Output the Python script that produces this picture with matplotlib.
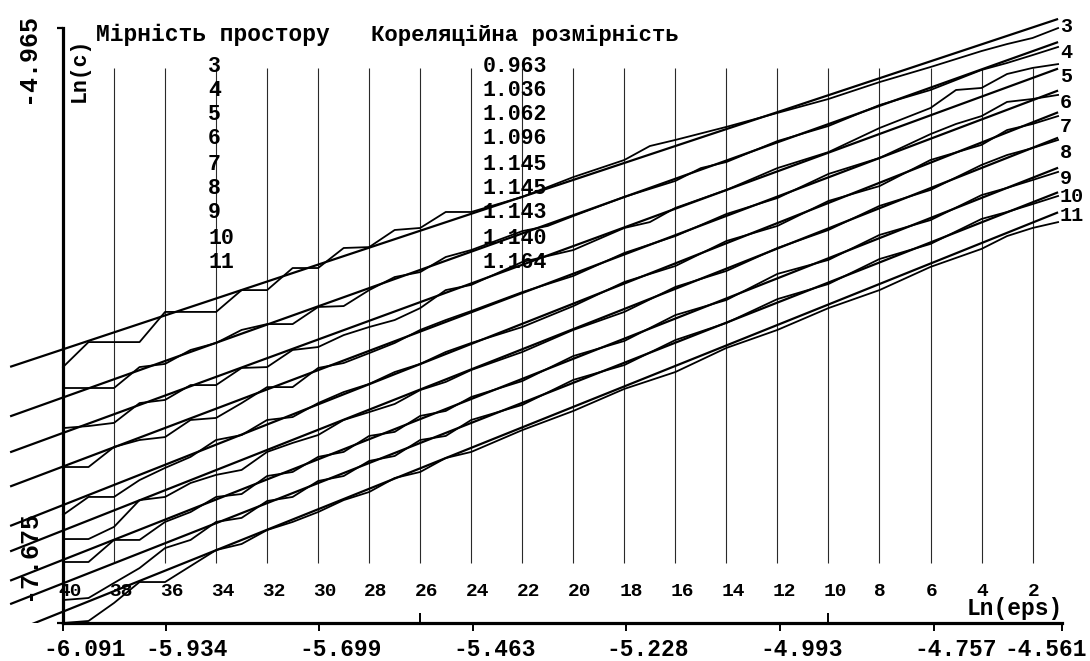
import numpy as np
import matplotlib
matplotlib.use('Agg')
import matplotlib.pyplot as plt

# embedding dimension and correlation dimension printed in the table
dims = [3, 4, 5, 6, 7, 8, 9, 10, 11]
corr_dim = [0.963, 1.036, 1.062, 1.096, 1.145, 1.145, 1.143, 1.140, 1.164]
corr_dim_text = ['0.963', '1.036', '1.062', '1.096', '1.145', '1.145', '1.143', '1.140', '1.164']

# Ln(eps) axis
lneps_ticks = [-6.091, -5.934, -5.699, -5.463, -5.228, -4.993, -4.757, -4.561]
lneps_tick_labels = ['-6.091', '-5.934', '-5.699', '-5.463', '-5.228', '-4.993', '-4.757', '-4.561']
eps_index_labels = list(range(40, 0, -2))
ylim_low, ylim_high = -7.675, -4.965

# regression lines: ln(c) at ln(eps) = -5.228, slope = correlation dimension
fit_x_mid = -5.228
fit_mid = [-5.628, -5.779, -5.914, -6.034, -6.163, -6.276, -6.408, -6.515, -6.620]
fit_x_start, fit_x_end = -6.172, -4.567

# measured ln(c) curves (eps index -> ln c)
idx_3 = [40, 39, 37, 36, 34, 33, 32, 31, 30, 29, 28, 27, 26, 25, 24, 22, 20, 18, 17, 16, 14, 12, 10, 8, 6, 4, 3, 2, 1]
lnc_3 = [-6.538, -6.427, -6.427, -6.293, -6.293, -6.196, -6.196, -6.098, -6.098, -6.009, -6.005, -5.929, -5.920,
         -5.849, -5.849, -5.782, -5.694, -5.618, -5.556, -5.529, -5.471, -5.409, -5.347, -5.272, -5.205, -5.134,
         -5.103, -5.076, -5.032]
idx_4 = [40, 38, 37, 36, 35, 34, 33, 32, 31, 30, 29, 28, 27, 26, 25, 24, 22, 21, 20, 18, 16, 15, 14, 12, 10, 8, 6, 4, 3, 2, 1]
lnc_4 = [-6.631, -6.631, -6.538, -6.524, -6.462, -6.431, -6.373, -6.347, -6.347, -6.271, -6.267, -6.196, -6.138,
         -6.116, -6.049, -6.018, -5.934, -5.911, -5.867, -5.782, -5.711, -5.654, -5.627, -5.534, -5.467, -5.374,
         -5.307, -5.218, -5.187, -5.152, -5.116]
idx_5 = [40, 39, 38, 37, 36, 35, 34, 33, 32, 31, 30, 29, 28, 27, 26, 25, 24, 22, 20, 18, 17, 16, 14, 12, 10, 8, 6, 5, 4, 3, 2, 1]
lnc_5 = [-6.809, -6.800, -6.786, -6.698, -6.684, -6.618, -6.618, -6.542, -6.538, -6.462, -6.449, -6.396, -6.360,
         -6.329, -6.276, -6.196, -6.173, -6.071, -6.018, -5.920, -5.894, -5.831, -5.751, -5.654, -5.583, -5.476,
         -5.387, -5.307, -5.298, -5.236, -5.209, -5.192]
idx_6 = [40, 39, 38, 37, 36, 35, 34, 33, 32, 31, 30, 29, 28, 27, 26, 25, 24, 22, 20, 18, 16, 14, 12, 10, 8, 6, 5, 4, 3, 2, 1]
lnc_6 = [-6.982, -6.982, -6.893, -6.862, -6.849, -6.773, -6.764, -6.698, -6.627, -6.627, -6.542, -6.520, -6.476,
         -6.431, -6.373, -6.329, -6.289, -6.205, -6.133, -6.031, -5.956, -5.858, -5.787, -5.680, -5.609, -5.503,
         -5.458, -5.423, -5.360, -5.347, -5.329]
idx_7 = [40, 39, 38, 37, 36, 35, 34, 33, 32, 31, 30, 29, 28, 27, 26, 25, 24, 22, 20, 18, 16, 14, 12, 10, 8, 6, 4, 3, 2, 1]
lnc_7 = [-7.195, -7.115, -7.115, -7.040, -6.986, -6.937, -6.862, -6.840, -6.773, -6.760, -6.698, -6.649, -6.613,
         -6.560, -6.524, -6.471, -6.431, -6.360, -6.267, -6.160, -6.089, -5.978, -5.911, -5.800, -5.734, -5.618,
         -5.551, -5.485, -5.458, -5.423]
idx_8 = [40, 39, 38, 37, 36, 35, 34, 33, 32, 31, 30, 29, 28, 27, 26, 25, 24, 22, 20, 18, 16, 14, 12, 10, 8, 6, 4, 3, 2, 1]
lnc_8 = [-7.302, -7.302, -7.248, -7.129, -7.115, -7.053, -7.017, -6.995, -6.915, -6.875, -6.840, -6.773, -6.738,
         -6.702, -6.640, -6.604, -6.551, -6.471, -6.373, -6.293, -6.182, -6.111, -6.009, -5.929, -5.822, -5.751,
         -5.640, -5.596, -5.565, -5.529]
idx_9 = [40, 39, 38, 37, 36, 35, 34, 33, 32, 31, 30, 29, 28, 27, 26, 25, 24, 22, 20, 18, 16, 14, 12, 10, 8, 6, 4, 3, 2, 1]
lnc_9 = [-7.404, -7.404, -7.306, -7.306, -7.226, -7.182, -7.115, -7.102, -7.022, -7.004, -6.937, -6.915, -6.844,
         -6.826, -6.755, -6.733, -6.671, -6.600, -6.489, -6.422, -6.307, -6.240, -6.124, -6.062, -5.951, -5.885,
         -5.774, -5.742, -5.707, -5.671]
idx_10 = [40, 39, 38, 37, 36, 35, 34, 33, 32, 31, 30, 29, 28, 27, 26, 25, 24, 22, 20, 18, 16, 14, 12, 10, 8, 6, 4, 3, 2, 1]
lnc_10 = [-7.573, -7.564, -7.497, -7.431, -7.342, -7.306, -7.226, -7.208, -7.133, -7.115, -7.044, -7.022, -6.955,
          -6.933, -6.862, -6.844, -6.773, -6.706, -6.595, -6.529, -6.418, -6.342, -6.236, -6.169, -6.058, -5.991,
          -5.880, -5.849, -5.814, -5.778]
idx_11 = [40, 39, 38, 37, 36, 35, 34, 33, 32, 31, 30, 29, 28, 27, 26, 25, 24, 22, 20, 18, 16, 14, 12, 10, 8, 6, 4, 3, 2, 1]
lnc_11 = [-7.675, -7.666, -7.586, -7.493, -7.493, -7.422, -7.351, -7.324, -7.262, -7.226, -7.182, -7.129, -7.093,
          -7.031, -7.004, -6.942, -6.915, -6.818, -6.733, -6.635, -6.560, -6.453, -6.373, -6.276, -6.196, -6.093,
          -6.013, -5.956, -5.920, -5.894]

curves = [(idx_3, lnc_3), (idx_4, lnc_4), (idx_5, lnc_5), (idx_6, lnc_6), (idx_7, lnc_7),
          (idx_8, lnc_8), (idx_9, lnc_9), (idx_10, lnc_10), (idx_11, lnc_11)]


def ln_eps(idx):
    # eps index 40 sits on the left axis, index 1 at the right end
    return np.interp(idx, [1, 40], [-4.567, -6.091])


W, H = 1090, 661
font = dict(family='Liberation Mono', weight='bold', color='black')


def fig_px(x, y):
    return x / W, 1 - y / H


fig = plt.figure(figsize=(W / 100, H / 100), dpi=100)
ax = fig.add_axes([0, 38 / H, 1, 610 / H])
k = 1.53 / 999
ax.set_xlim(-6.091 - 63 * k, -4.561 + 28 * k)
ax.set_ylim(ylim_low, ylim_high)

ax.spines['top'].set_visible(False)
ax.spines['right'].set_visible(False)
ax.spines['left'].set_position(('data', -6.091))
ax.spines['left'].set_bounds(ylim_low, -5.032)
ax.spines['bottom'].set_bounds(-6.091, -4.561)
for s in ['left', 'bottom']:
    ax.spines[s].set_linewidth(2.3)

ax.set_xticks(lneps_ticks, labels=[])
ax.set_xticks(ln_eps(np.array([26, 10])), minor=True)
ax.tick_params(axis='x', which='major', direction='out', length=6, width=1.4)
ax.tick_params(axis='x', which='minor', direction='in', length=7, width=1.4)
ax.set_yticks([ylim_low, -5.032], labels=[])
ax.tick_params(axis='y', direction='out', length=4, width=1.6)

# vertical grid lines at even eps indices
grid_x = ln_eps(np.array(eps_index_labels[1:]))
ax.vlines(grid_x, -7.408, -5.209, color='#2a2a2a', lw=0.8)

# regression lines
x_fit = np.array([fit_x_start, fit_x_end])
for d, mid in zip(corr_dim, fit_mid):
    ax.plot(x_fit, mid + d * (x_fit - fit_x_mid), color='black', lw=1.6, solid_capstyle='butt')

# measured curves
for idx, lnc in curves:
    ax.plot(ln_eps(np.array(idx)), lnc, color='black', lw=1.3)

# Ln(eps) tick labels
for i, (t, lab) in enumerate(zip(lneps_ticks, lneps_tick_labels)):
    last = i == len(lneps_ticks) - 1
    ax.annotate(lab, (t, ylim_low), xytext=(25 if last else -20, -27), textcoords='offset pixels',
                ha='right' if last else 'left', va='center', fontsize=16.5, annotation_clip=False, **font)

# eps index labels along the grid
for n in eps_index_labels:
    ax.annotate(str(n), (ln_eps(n), ylim_low), xytext=(-5, 32), textcoords='offset pixels',
                ha='left', va='center', fontsize=14, annotation_clip=False, **font)

fig.text(*fig_px(1063, 609), 'Ln(eps)', ha='right', va='center', fontsize=16.5, **font)

# y axis labels
fig.text(*fig_px(27, 13), '-4.965', rotation=90, ha='center', va='top', fontsize=18, **font)
fig.text(*fig_px(28, 600), '-7.675', rotation=90, ha='center', va='bottom', fontsize=18, **font)
fig.text(*fig_px(79, 70), 'Ln(c)', rotation=90, ha='center', va='center', fontsize=15.5, **font)

# header and table
fig.text(*fig_px(96, 35), 'Мірність простору', ha='left', va='center', fontsize=16.5, **font)
fig.text(*fig_px(371, 35), 'Кореляційна розмірність', ha='left', va='center', fontsize=16, **font)
row_y = [66, 90, 115, 139, 164, 189, 213, 239, 263]
for d, txt, y in zip(dims, corr_dim_text, row_y):
    fig.text(*fig_px(208, y), str(d), ha='left', va='center', fontsize=15.5, **font)
    fig.text(*fig_px(483, y), txt, ha='left', va='center', fontsize=15.5, **font)

# curve labels at the right end
end_y = [27, 53, 77, 103, 127, 153, 178, 197, 215]
for d, y in zip(dims, end_y):
    fig.text(*fig_px(1060, y), str(d), ha='left', va='center', fontsize=14.5, **font)

fig.savefig('out.png', dpi=100)
